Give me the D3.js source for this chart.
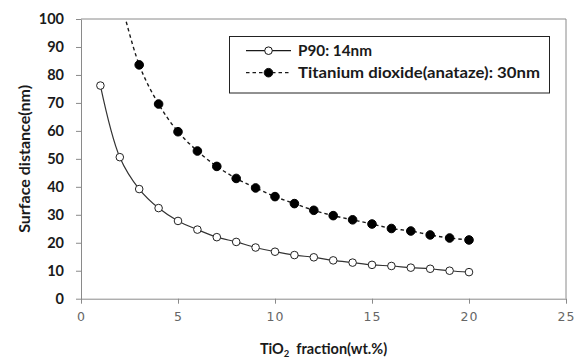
<!DOCTYPE html>
<html>
<head>
<meta charset="utf-8">
<script src="https://cdn.jsdelivr.net/npm/d3@7"></script>
<style>
  html, body { margin: 0; padding: 0; background: #fff; }
  svg { display: block; }
</style>
</head>
<body>
<svg id="chart" width="584" height="358"></svg>
<script>
// TiO2 loading (wt.%) and the mean surface-to-surface distance between particles
const fractions = [1, 2, 3, 4, 5, 6, 7, 8, 9, 10, 11, 12, 13, 14, 15, 16, 17, 18, 19, 20];
const p90Distance = [76.2, 50.6, 39.2, 32.4, 27.8, 24.7, 22.0, 20.3, 18.3, 16.8,
                     15.6, 14.8, 13.7, 12.9, 12.1, 11.7, 11.1, 10.7, 10.0, 9.5];
const anataseFractions = [2, 3, 4, 5, 6, 7, 8, 9, 10, 11, 12, 13, 14, 15, 16, 17, 18, 19, 20];
const anataseDistance = [108, 83.6, 69.6, 59.7, 52.8, 47.3, 43.0, 39.6, 36.5, 34.0,
                         31.6, 29.7, 28.2, 26.7, 25.1, 24.2, 22.8, 21.7, 21.0];
const xTicks = [0, 5, 10, 15, 20, 25];
const yTicks = [0, 10, 20, 30, 40, 50, 60, 70, 80, 90, 100];
const seriesNames = ["P90: 14nm", "Titanium dioxide(anataze): 30nm"];

(function draw() {
  const svg = d3.select("#chart");
  const plotLeft = 81, plotRight = 566, plotTop = 19, plotBottom = 298.7;
  const axisGrey = "#8a8a8a";
  const ink = "#1a1a1a";
  const labelFont = "Lato, 'Liberation Sans', Arial, sans-serif";

  const x = d3.scaleLinear().domain([0, 25]).range([plotLeft, plotRight]);
  const y = d3.scaleLinear().domain([0, 100]).range([plotBottom, plotTop]);

  svg.append("defs").append("clipPath").attr("id", "plotClip")
    .append("rect").attr("x", plotLeft).attr("y", plotTop)
    .attr("width", plotRight - plotLeft).attr("height", plotBottom - plotTop);

  // plot frame (top and right edges)
  svg.append("path")
    .attr("d", `M${plotLeft},${plotTop}H${plotRight}V${plotBottom}`)
    .attr("fill", "none").attr("stroke", axisGrey).attr("stroke-width", 1);

  // y axis
  const yAxis = svg.append("g").attr("transform", `translate(${plotLeft},0)`)
    .call(d3.axisLeft(y).tickValues(yTicks).tickSize(5).tickSizeOuter(0).tickPadding(12));
  yAxis.select(".domain").attr("stroke", axisGrey);
  yAxis.selectAll(".tick line").attr("stroke", axisGrey);
  yAxis.selectAll(".tick text")
    .attr("fill", ink).attr("font-family", labelFont)
    .attr("font-weight", "bold").attr("font-size", 14.5);

  // x axis
  const xAxis = svg.append("g").attr("transform", `translate(0,${plotBottom})`)
    .call(d3.axisBottom(x).tickValues(xTicks).tickSize(5).tickSizeOuter(0).tickPadding(8));
  xAxis.select(".domain").attr("stroke", axisGrey);
  xAxis.selectAll(".tick line").attr("stroke", axisGrey);
  xAxis.selectAll(".tick text")
    .attr("fill", "#666").attr("font-family", "'DejaVu Sans', sans-serif")
    .attr("font-size", 12.5).attr("letter-spacing", 1);

  // axis titles
  const xTitle = svg.append("text")
    .attr("x", (plotLeft + plotRight) / 2).attr("y", 354)
    .attr("text-anchor", "middle").attr("font-family", labelFont)
    .attr("font-weight", "bold").attr("font-size", 14.5).attr("fill", ink);
  xTitle.append("tspan").text("TiO");
  xTitle.append("tspan").text("2").attr("font-size", 9.5).attr("dy", 3);
  xTitle.append("tspan").text("\u00a0\u00a0fraction(wt.%)").attr("dy", -3);

  svg.append("text")
    .attr("transform", `translate(30,${(plotTop + plotBottom) / 2}) rotate(-90)`)
    .attr("text-anchor", "middle").attr("font-family", labelFont)
    .attr("font-weight", "bold").attr("font-size", 15).attr("fill", ink)
    .attr("textLength", 148).attr("lengthAdjust", "spacingAndGlyphs")
    .text("Surface distance(nm)");

  // series
  const smooth = d3.line().x(d => x(d[0])).y(d => y(d[1])).curve(d3.curveCatmullRom.alpha(0.5));
  const p90 = d3.zip(fractions, p90Distance);
  const anatase = d3.zip(anataseFractions, anataseDistance);

  const plot = svg.append("g").attr("clip-path", "url(#plotClip)");

  plot.append("path").datum(anatase).attr("d", smooth)
    .attr("fill", "none").attr("stroke", ink).attr("stroke-width", 1.4)
    .attr("stroke-dasharray", "3.5,3");
  plot.append("path").datum(p90).attr("d", smooth)
    .attr("fill", "none").attr("stroke", "#333").attr("stroke-width", 1.2);

  plot.selectAll("circle.anatase").data(anatase).join("circle")
    .attr("class", "anatase")
    .attr("cx", d => x(d[0])).attr("cy", d => y(d[1])).attr("r", 4.3)
    .attr("fill", "#000").attr("stroke", "#000");
  plot.selectAll("circle.p90").data(p90).join("circle")
    .attr("class", "p90")
    .attr("cx", d => x(d[0])).attr("cy", d => y(d[1])).attr("r", 3.8)
    .attr("fill", "#fff").attr("stroke", "#222").attr("stroke-width", 1);

  // legend
  const legend = svg.append("g");
  legend.append("rect").attr("x", 229.5).attr("y", 36.5).attr("width", 320).attr("height", 56.5)
    .attr("fill", "#fff").attr("stroke", "#222").attr("stroke-width", 1);
  const rows = [
    { name: seriesNames[0], y: 50.7, dash: null, fill: "#fff", r: 3.8 },
    { name: seriesNames[1], y: 72.7, dash: "3.5,3", fill: "#000", r: 4.3 }
  ];
  const rowWidths = [74, 242];
  rows.forEach((row, i) => {
    legend.append("line").attr("x1", 246).attr("x2", 291).attr("y1", row.y).attr("y2", row.y)
      .attr("stroke", ink).attr("stroke-width", 1.3).attr("stroke-dasharray", row.dash);
    legend.append("circle").attr("cx", 268.5).attr("cy", row.y).attr("r", row.r)
      .attr("fill", row.fill).attr("stroke", "#111");
    legend.append("text").attr("x", 298).attr("y", row.y + 5)
      .attr("font-family", labelFont).attr("font-weight", "bold").attr("font-size", 14.5)
      .attr("fill", ink).attr("textLength", rowWidths[i]).attr("lengthAdjust", "spacingAndGlyphs")
      .text(row.name);
  });
})();
</script>
</body>
</html>
